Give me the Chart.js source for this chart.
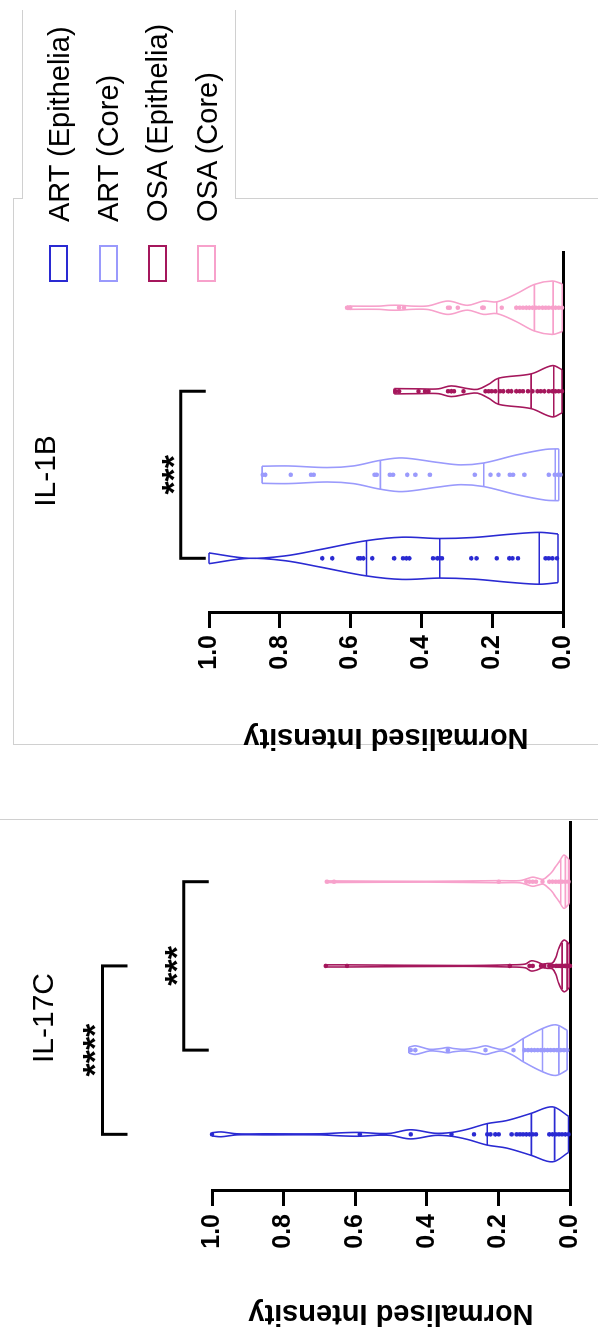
<!DOCTYPE html>
<html>
<head>
<meta charset="utf-8">
<script src="https://cdn.jsdelivr.net/npm/chart.js@4.4.1/dist/chart.umd.min.js"></script>
<style>
  html, body { margin: 0; padding: 0; background: #fff; }
  body { width: 598px; height: 1328px; overflow: hidden; position: relative; }
  /* the figure is laid out landscape and turned a quarter turn */
  #figure {
    position: absolute; left: 0; top: 0;
    width: 1328px; height: 598px;
    transform-origin: 0 0;
    transform: translate(0, 1328px) rotate(-90deg);
    font-family: 'Liberation Sans', Arial, sans-serif;
    color: #000;
  }
  #figure canvas { position: absolute; top: 0; }
  .panel-title { position: absolute; font-size: 30px; transform: translate(-50%, -50%); white-space: nowrap; }
  .legend-row { position: absolute; left: 1046px; height: 30px; display: flex; align-items: center; }
  .legend-box { width: 33px; height: 15px; border: 2px solid; background: #fff; }
  .legend-text { margin-left: 23px; font-size: 29px; line-height: 30px; white-space: nowrap; }
  .frame { position: absolute; background: #d0d0d0; }
</style>
</head>
<body>
<div id="figure">
  <div class="frame" style="left:583px; top:13px; width:546px; height:1px"></div>
  <div class="frame" style="left:1129px; top:13px; width:1px; height:9px"></div>
  <div class="frame" style="left:1129px; top:22px; width:189px; height:1px"></div>
  <div class="frame" style="left:1129px; top:235px; width:189px; height:1px"></div>
  <div class="frame" style="left:1129px; top:235px; width:1px; height:363px"></div>
  <div class="frame" style="left:583px; top:13px; width:1px; height:585px"></div>
  <div class="frame" style="left:508px; top:0px; width:1px; height:598px"></div>

  <canvas id="il17c" width="530" height="598" style="left:0px"></canvas>
  <canvas id="il1b" width="540" height="598" style="left:560px"></canvas>

  <div class="panel-title" id="title17c" style="left:310px; top:43px"></div>
  <div class="panel-title" id="title1b" style="left:857px; top:45px"></div>
  <div id="legend"></div>
</div>
<script>
const CATEGORIES = ['ART (Epithelia)', 'ART (Core)', 'OSA (Epithelia)', 'OSA (Core)'];
const SERIES_COLORS = ['#2a2ad2', '#9a9afc', '#a5175c', '#f7a1cb'];
const VALUE_TICKS = [0, 0.2, 0.4, 0.6, 0.8, 1.0];
const AXIS_TITLE = 'Normalised Intensity';
const PANEL_TITLES = ['IL-17C', 'IL-1B'];

// IL-17C: density outline (relative width at each level), quartiles, raw points
const il17cArtEpiLevels = [0.004, 0.049, 0.108, 0.177, 0.231, 0.286, 0.331, 0.377, 0.445, 0.5, 0.532, 0.587, 0.632, 0.7, 0.85, 0.93, 0.975, 1.0];
const il17cArtEpiDensity = [0.67, 1.02, 0.78, 0.51, 0.4, 0.19, 0.07, 0.04, 0.17, 0.04, 0.03, 0.07, 0.06, 0.02, 0.02, 0.02, 0.09, 0.06];
const il17cArtEpiQuartiles = [0.043, 0.108, 0.231];
const il17cArtEpiPoints = [1.0, 0.587, 0.445, 0.331, 0.268, 0.231, 0.222, 0.209, 0.199, 0.163, 0.149, 0.14, 0.131, 0.122, 0.113, 0.104, 0.095, 0.058, 0.049, 0.04, 0.031, 0.022, 0.013, 0.004];

const il17cArtCoreLevels = [0.008, 0.04, 0.077, 0.131, 0.158, 0.19, 0.215, 0.236, 0.26, 0.295, 0.325, 0.341, 0.36, 0.392, 0.431, 0.45];
const il17cArtCoreDensity = [0.74, 0.94, 0.8, 0.43, 0.2, 0.03, 0.09, 0.16, 0.09, 0.03, 0.06, 0.1, 0.06, 0.03, 0.16, 0.11];
const il17cArtCoreQuartiles = [0.031, 0.077, 0.131];
const il17cArtCorePoints = [0.445, 0.432, 0.341, 0.236, 0.158, 0.127, 0.117, 0.108, 0.099, 0.09, 0.081, 0.072, 0.063, 0.054, 0.045, 0.036, 0.026, 0.017, 0.008];

const il17cOsaEpiLevels = [0.002, 0.017, 0.031, 0.04, 0.049, 0.063, 0.077, 0.092, 0.108, 0.125, 0.168, 0.3, 0.623, 0.682];
const il17cOsaEpiDensity = [0.81, 0.96, 0.67, 0.3, 0.11, 0.09, 0.07, 0.15, 0.19, 0.07, 0.04, 0.015, 0.04, 0.04];
const il17cOsaEpiQuartiles = [0.008, 0.022, 0.07];
const il17cOsaEpiPoints = [0.682, 0.623, 0.168, 0.113, 0.104, 0.081, 0.072, 0.058, 0.049, 0.04, 0.036, 0.031, 0.026, 0.022, 0.017, 0.013, 0.008, 0.004, 0.0];

const il17cOsaCoreLevels = [0.002, 0.017, 0.03, 0.04, 0.05, 0.058, 0.075, 0.09, 0.104, 0.12, 0.14, 0.199, 0.4, 0.659, 0.679];
const il17cOsaCoreDensity = [0.81, 0.99, 0.74, 0.56, 0.37, 0.26, 0.09, 0.13, 0.17, 0.11, 0.04, 0.04, 0.015, 0.03, 0.03];
const il17cOsaCoreQuartiles = [0.004, 0.013, 0.026];
const il17cOsaCorePoints = [0.679, 0.659, 0.199, 0.122, 0.113, 0.104, 0.095, 0.077, 0.058, 0.049, 0.04, 0.031, 0.022, 0.013, 0.004];

// IL-1B
const il1bArtEpiLevels = [0.014, 0.067, 0.15, 0.251, 0.348, 0.454, 0.555, 0.685, 0.785, 0.887, 1.0];
const il1bArtEpiDensity = [0.91, 0.97, 0.9, 0.78, 0.74, 0.79, 0.66, 0.33, 0.09, 0.0, 0.2];
const il1bArtEpiQuartiles = [0.067, 0.348, 0.555];
const il1bArtEpiPoints = [0.017, 0.03, 0.04, 0.049, 0.127, 0.143, 0.152, 0.187, 0.244, 0.259, 0.342, 0.348, 0.355, 0.367, 0.434, 0.443, 0.452, 0.477, 0.539, 0.564, 0.572, 0.578, 0.652, 0.68];

const il1bArtCoreLevels = [0.012, 0.049, 0.132, 0.224, 0.288, 0.353, 0.454, 0.516, 0.592, 0.666, 0.776, 0.85];
const il1bArtCoreDensity = [0.97, 0.95, 0.74, 0.44, 0.37, 0.46, 0.63, 0.54, 0.33, 0.27, 0.33, 0.32];
const il1bArtCoreQuartiles = [0.022, 0.224, 0.516];
const il1bArtCorePoints = [0.007, 0.014, 0.023, 0.04, 0.109, 0.141, 0.15, 0.182, 0.205, 0.249, 0.376, 0.417, 0.44, 0.48, 0.489, 0.526, 0.532, 0.704, 0.712, 0.769, 0.841, 0.848];

const il1bOsaEpiLevels = [0.003, 0.03, 0.09, 0.182, 0.21, 0.242, 0.27, 0.316, 0.352, 0.408, 0.477];
const il1bOsaEpiDensity = [0.81, 0.96, 0.65, 0.49, 0.26, 0.07, 0.1, 0.2, 0.09, 0.09, 0.1];
const il1bOsaEpiQuartiles = [0.026, 0.09, 0.182];
const il1bOsaEpiPoints = [0.474, 0.463, 0.408, 0.39, 0.38, 0.325, 0.316, 0.308, 0.281, 0.219, 0.21, 0.201, 0.191, 0.178, 0.169, 0.155, 0.146, 0.132, 0.122, 0.113, 0.099, 0.086, 0.072, 0.063, 0.053, 0.04, 0.03, 0.021, 0.012, 0.003];

const il1bOsaCoreLevels = [0.002, 0.03, 0.081, 0.132, 0.187, 0.224, 0.27, 0.325, 0.38, 0.426, 0.46, 0.49, 0.52, 0.61];
const il1bOsaCoreDensity = [0.89, 1.0, 0.87, 0.52, 0.22, 0.25, 0.09, 0.25, 0.07, 0.06, 0.09, 0.09, 0.06, 0.06];
const il1bOsaCoreQuartiles = [0.028, 0.081, 0.187];
const il1bOsaCorePoints = [0.61, 0.601, 0.463, 0.449, 0.325, 0.32, 0.297, 0.228, 0.224, 0.173, 0.132, 0.122, 0.113, 0.104, 0.095, 0.086, 0.077, 0.068, 0.058, 0.049, 0.04, 0.03, 0.021, 0.012, 0.003];

// significance brackets: [from category, to category, label]
const IL17C_COMPARISONS = [[0, 2, '****'], [1, 3, '***']];
const IL1B_COMPARISONS = [[0, 2, '***']];

const FONT = "'Liberation Sans', Arial, sans-serif";
Chart.defaults.font.family = FONT;
Chart.defaults.color = '#000';

const HALF = 0.32; // half-width of the widest violin, in category units

function widthAt(levels, density, v) {
  for (let i = 0; i < levels.length - 1; i++) {
    if (v >= levels[i] && v <= levels[i + 1]) {
      const t = (v - levels[i]) / (levels[i + 1] - levels[i]);
      return density[i] + t * (density[i + 1] - density[i]);
    }
  }
  return v < levels[0] ? density[0] : density[density.length - 1];
}

function violin(cat, levels, density, quartiles, points) {
  const color = SERIES_COLORS[cat];
  const gap = { x: null, y: null };
  const right = levels.map((v, i) => ({ x: cat + density[i] * HALF, y: v }));
  const left = levels.map((v, i) => ({ x: cat - density[i] * HALF, y: v }));
  // end caps plus quartile / median lines
  const segs = [];
  [levels[0], levels[levels.length - 1], ...quartiles].forEach(v => {
    const w = widthAt(levels, density, v) * HALF;
    segs.push({ x: cat - w, y: v }, { x: cat + w, y: v }, gap);
  });
  const line = { showLine: true, pointRadius: 0, borderColor: color, borderWidth: 1.6, fill: false, clip: false };
  return [
    { ...line, data: [...right, gap, ...left], tension: 0.35 },
    { ...line, data: segs, tension: 0 },
    {
      data: points.map(v => ({ x: cat, y: v })), showLine: false,
      pointRadius: 2.3, pointBackgroundColor: color, pointBorderWidth: 0, clip: false
    }
  ];
}

const bracketPlugin = {
  id: 'brackets',
  afterDatasetsDraw(chart, args, opts) {
    const { ctx, scales: { x, y } } = chart;
    ctx.save();
    ctx.strokeStyle = '#000';
    ctx.fillStyle = '#000';
    ctx.lineWidth = 3;
    ctx.font = 'bold 34px ' + FONT;
    ctx.textAlign = 'center';
    ctx.textBaseline = 'alphabetic';
    opts.items.forEach(([a, b, label], i) => {
      const top = y.getPixelForValue(opts.heights[i]);
      const x1 = x.getPixelForValue(a);
      const x2 = x.getPixelForValue(b);
      ctx.beginPath();
      ctx.moveTo(x1, top + opts.drop);
      ctx.lineTo(x1, top);
      ctx.lineTo(x2, top);
      ctx.lineTo(x2, top + opts.drop);
      ctx.stroke();
      ctx.fillText(label, (x1 + x2) / 2, top + opts.textOffset);
    });
    ctx.restore();
  }
};

function makePanel(id, datasets, xMin, xMax, axisWidth, tickPad, padding, brackets) {
  return new Chart(document.getElementById(id), {
    type: 'scatter',
    data: { datasets },
    options: {
      responsive: false,
      animation: false,
      events: [],
      layout: { padding },
      scales: {
        x: {
          type: 'linear', min: xMin, max: xMax,
          ticks: { display: false },
          grid: { display: false },
          border: { color: '#000', width: 3 }
        },
        y: {
          min: 0, max: 1,
          afterBuildTicks: s => { s.ticks = VALUE_TICKS.map(v => ({ value: v })); },
          afterFit: s => { s.width = axisWidth; },
          ticks: { padding: tickPad, color: '#000', font: { size: 25, weight: 'bold' }, callback: v => v.toFixed(1) },
          grid: { drawOnChartArea: false, drawTicks: true, tickLength: 15, tickWidth: 3, tickColor: '#000' },
          border: { color: '#000', width: 3 },
          title: {
            display: true, text: AXIS_TITLE, color: '#000', padding: 0,
            font: { size: 29, weight: 'bold', lineHeight: 1 }
          }
        }
      },
      plugins: {
        legend: { display: false },
        tooltip: { enabled: false },
        brackets
      }
    },
    plugins: [bracketPlugin]
  });
}

makePanel('il17c', [
  ...violin(0, il17cArtEpiLevels, il17cArtEpiDensity, il17cArtEpiQuartiles, il17cArtEpiPoints),
  ...violin(1, il17cArtCoreLevels, il17cArtCoreDensity, il17cArtCoreQuartiles, il17cArtCorePoints),
  ...violin(2, il17cOsaEpiLevels, il17cOsaEpiDensity, il17cOsaEpiQuartiles, il17cOsaEpiPoints),
  ...violin(3, il17cOsaCoreLevels, il17cOsaCoreDensity, il17cOsaCoreQuartiles, il17cOsaCorePoints)
], -0.673, 3.709, 137, 8, { left: 0, right: 24, top: 212, bottom: 20 },
  { items: IL17C_COMPARISONS, heights: [1.306, 1.079], drop: 25, textOffset: 4 });

makePanel('il1b', [
  ...violin(0, il1bArtEpiLevels, il1bArtEpiDensity, il1bArtEpiQuartiles, il1bArtEpiPoints),
  ...violin(1, il1bArtCoreLevels, il1bArtCoreDensity, il1bArtCoreQuartiles, il1bArtCorePoints),
  ...violin(2, il1bOsaEpiLevels, il1bOsaEpiDensity, il1bOsaEpiQuartiles, il1bOsaEpiPoints),
  ...violin(3, il1bOsaCoreLevels, il1bOsaCoreDensity, il1bOsaCoreQuartiles, il1bOsaCorePoints)
], -0.655, 3.667, 138.5, 7, { left: 16.5, right: 24, top: 209, bottom: 27 },
  { items: IL1B_COMPARISONS, heights: [1.08], drop: 25, textOffset: 4 });

document.getElementById('title17c').textContent = PANEL_TITLES[0];
document.getElementById('title1b').textContent = PANEL_TITLES[1];

// legend, one row per category
const legendRows = [58.5, 108, 157, 206.5];
const legend = document.getElementById('legend');
CATEGORIES.forEach((name, i) => {
  const row = document.createElement('div');
  row.className = 'legend-row';
  row.style.top = (legendRows[i] - 15) + 'px';
  row.innerHTML = `<div class="legend-box" style="border-color:${SERIES_COLORS[i]}"></div><span class="legend-text">${name}</span>`;
  legend.appendChild(row);
});
</script>
</body>
</html>
